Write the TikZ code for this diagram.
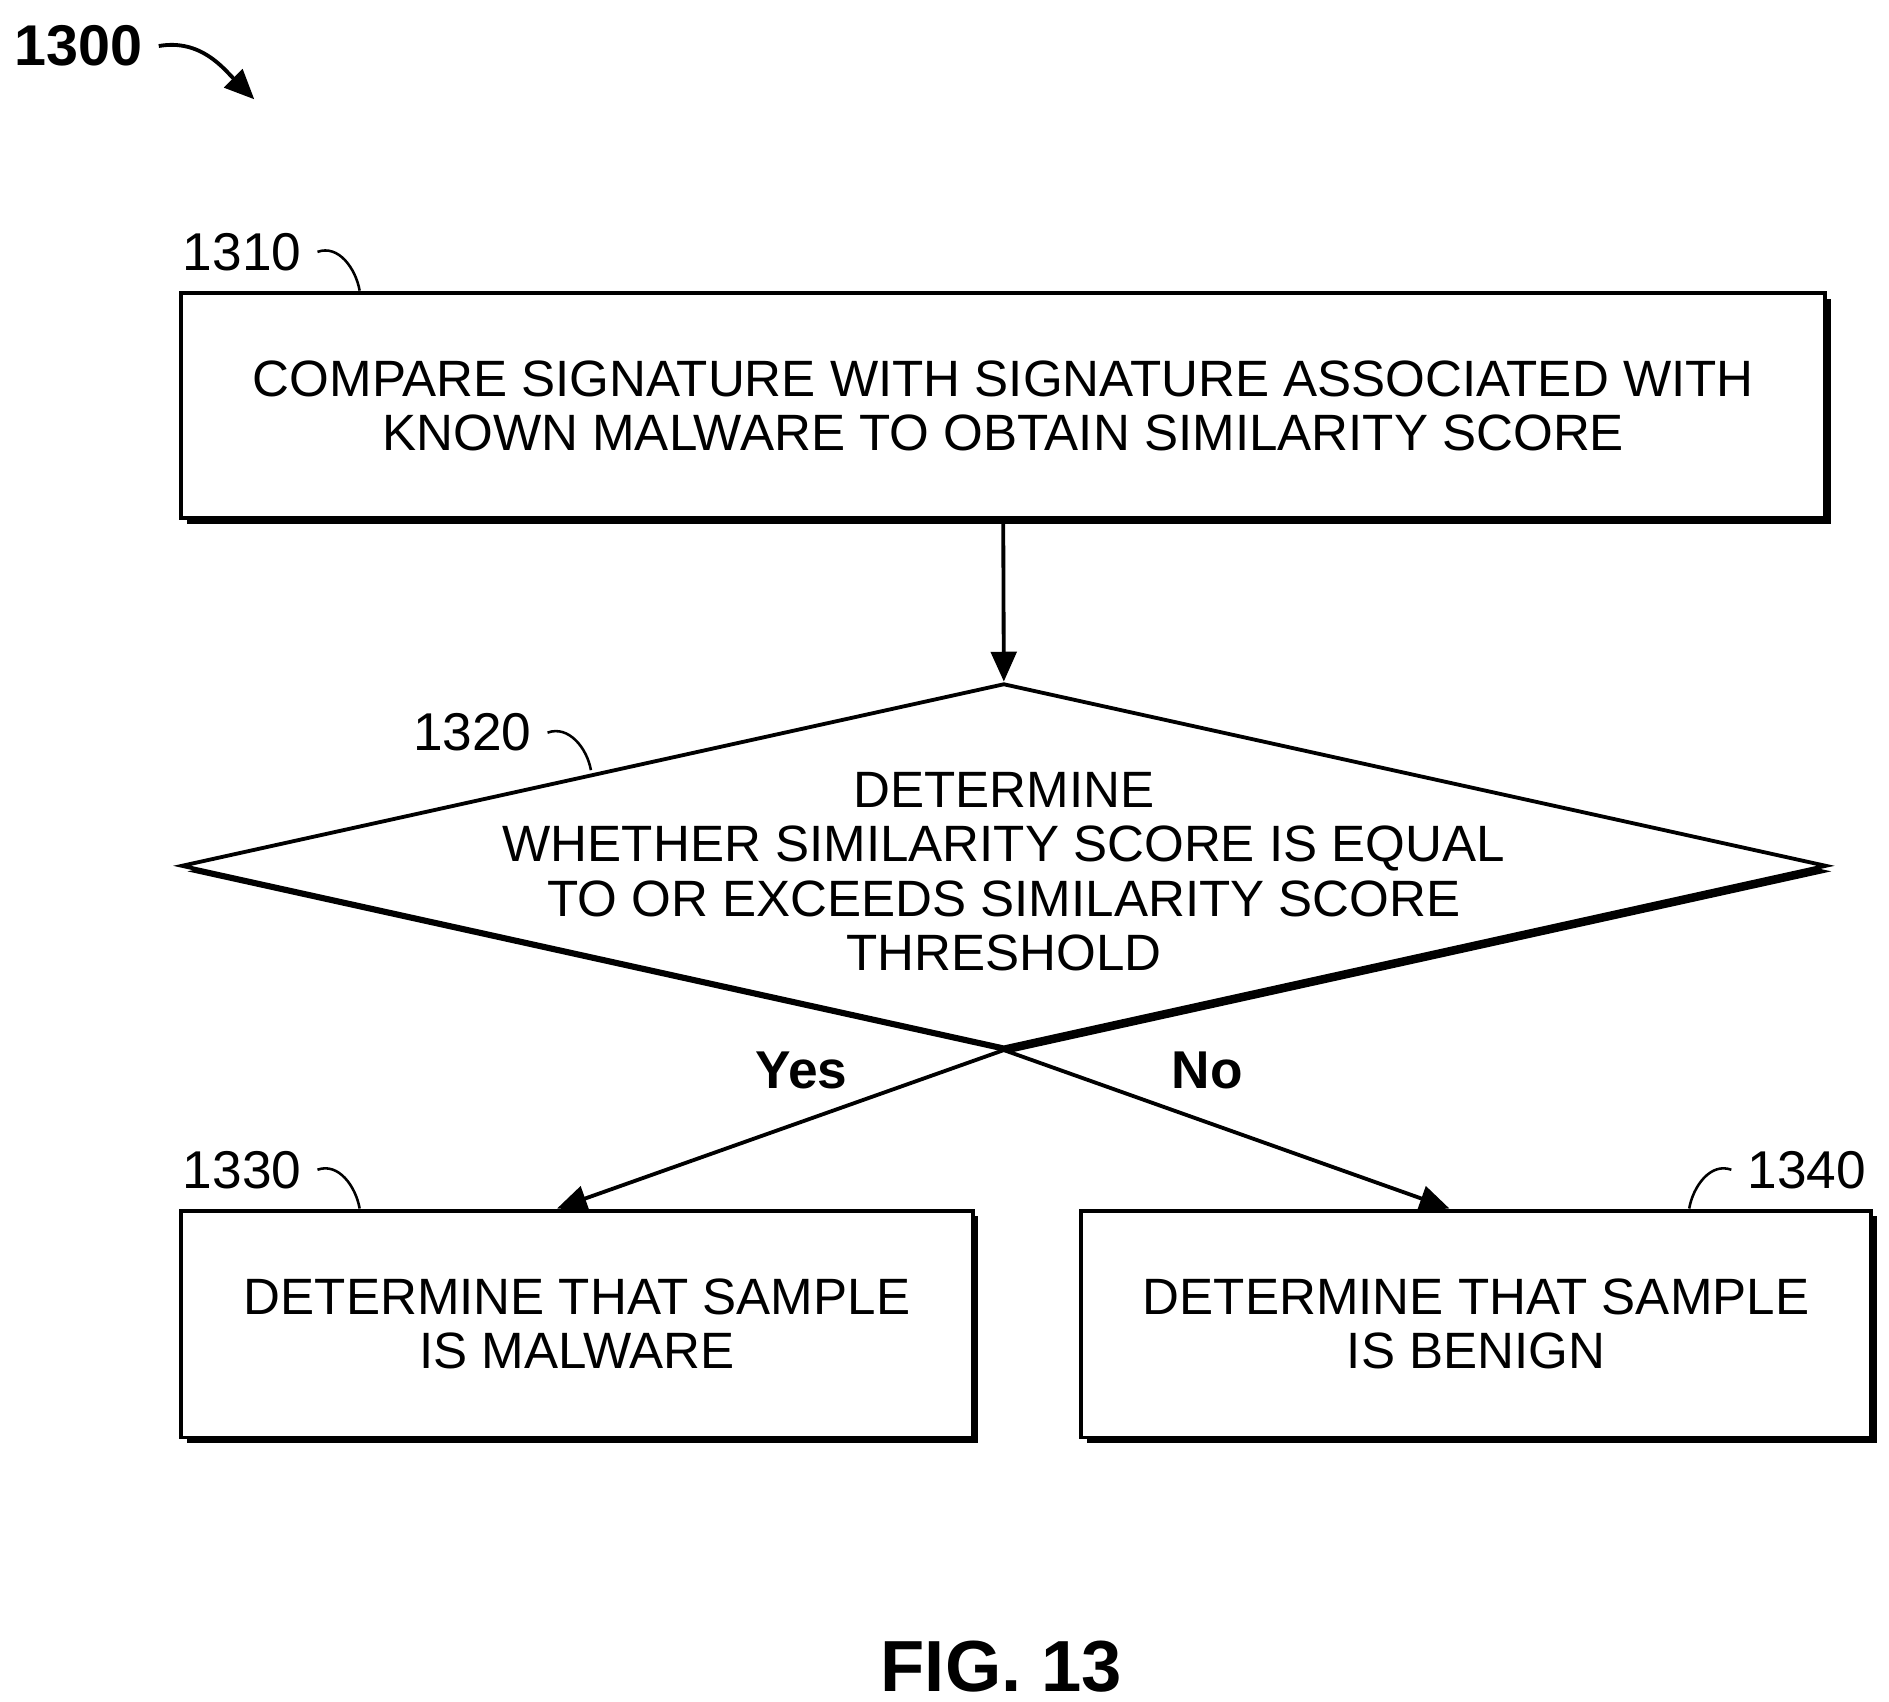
\documentclass[tikz,border=0pt]{standalone}
\usepackage{fontspec}
\setmainfont{Liberation Sans}
\usetikzlibrary{shapes.geometric,shadows,arrows.meta}
\begin{document}
\begin{tikzpicture}[x=0.01cm, y=-0.01cm, line width=0.9pt,
  every node/.style={font=\fontsize{12}{12.8}\selectfont},
  stepbox/.style={draw, fill=white, inner sep=0pt, align=center,
    general shadow={fill=black, shadow xshift=1.3pt, shadow yshift=-1.3pt}},
  flow/.style={-{Triangle[length=7pt,width=6pt]}},
  tag/.style={font=\fontsize{12.5}{14}\selectfont}]
  \useasboundingbox (0,0) rectangle (1560,1405);

  % figure number
  \node[font=\bfseries\fontsize{13.5}{15}\selectfont] (fig) at (65,38) {1300};
  \coordinate (figend) at (210,82);
  \draw[flow] (fig.east) to[out=10, in=135] (figend);

  % boxes
  \node[stepbox, minimum width=13.57cm, minimum height=1.86cm] (compare) at (828.5,335)
    {COMPARE SIGNATURE WITH SIGNATURE ASSOCIATED WITH\\KNOWN MALWARE TO OBTAIN SIMILARITY SCORE};
  \node[stepbox, diamond, minimum width=13.58cm, minimum height=3.01cm] (decide) at (829,715) {};
  \node[align=center] (decidetext) at (829,720)
    {DETERMINE\\WHETHER SIMILARITY SCORE IS EQUAL\\TO OR EXCEEDS SIMILARITY SCORE\\THRESHOLD};
  \node[stepbox, minimum width=6.53cm, minimum height=1.87cm] (malware) at (476.5,1093.5)
    {DETERMINE THAT SAMPLE\\IS MALWARE};
  \node[stepbox, minimum width=6.52cm, minimum height=1.87cm] (benign) at (1219,1093.5)
    {DETERMINE THAT SAMPLE\\IS BENIGN};

  % connectors
  \draw[flow] (compare.south) -- (decide.north);
  \draw[flow] (decide.south) -- (460,998) coordinate (yesend);
  \draw[flow] (decide.south) -- (1197,998) coordinate (noend);
  \node[font=\bfseries\fontsize{12.5}{14}\selectfont] (yes) at (662,884) {Yes};
  \node[font=\bfseries\fontsize{12.5}{14}\selectfont] (no) at (997,884) {No};

  % reference numerals
  \node[tag] (t1310) at (200,208) {1310};
  \draw[line width=0.6pt] (t1310.east) to[out=20, in=100] (297,240);
  \node[tag] (t1320) at (390,605) {1320};
  \draw[line width=0.6pt] (t1320.east) to[out=20, in=100] (488,636);
  \node[tag] (t1330) at (200,966) {1330};
  \draw[line width=0.6pt] (t1330.east) to[out=20, in=100] (297,998);
  \node[tag] (t1340) at (1492,966) {1340};
  \draw[line width=0.6pt] (t1340.west) to[out=160, in=80] (1395,998);

  \node[font=\bfseries\fontsize{17}{19}\selectfont] (caption) at (827,1376) {FIG. 13};
\end{tikzpicture}
\end{document}
